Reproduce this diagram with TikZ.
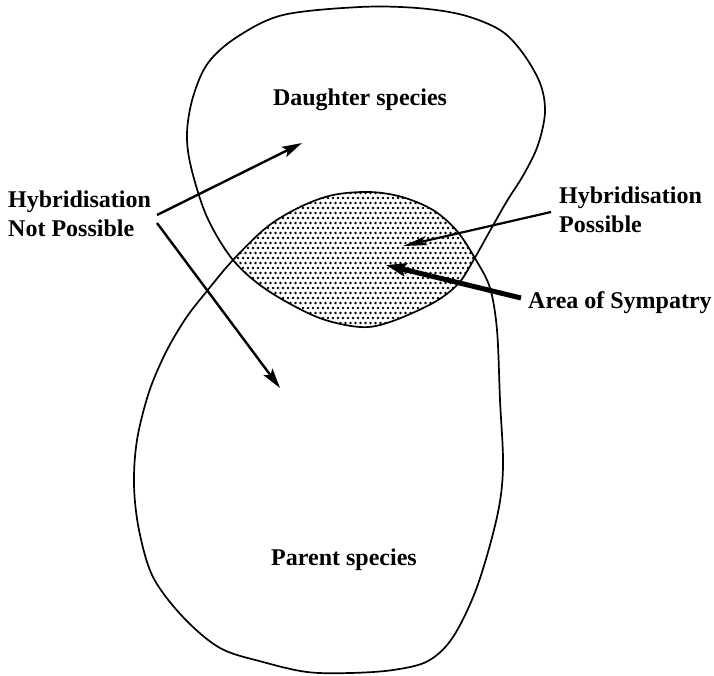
\documentclass[tikz,border=0pt]{standalone}
\usepackage{fontspec}
\setmainfont{Liberation Serif}
\usetikzlibrary{arrows.meta}
\newcommand\daughterpath{plot[smooth cycle, tension=0.55] coordinates {(360,7) (417,8) (463,15) (500,30) (522,52) (540,83) (545,112) (538,145) (524,174) (507,201) (491,229) (473,261) (458,284) (433,303) (390,322) (360,327) (317,317) (267,290) (233,260) (207,217) (191,167) (187,133) (193,97) (208,63) (237,37) (283,15)}}
\newcommand\parentpath{plot[smooth cycle, tension=0.55] coordinates {(233,260) (267,227) (300,207) (333,195) (370,192) (402,197) (433,210) (457,231) (476,260) (490,288) (497,330) (500,400) (503,467) (497,517) (477,587) (453,637) (428,661) (393,670) (350,673) (307,672) (263,662) (220,648) (183,617) (153,577) (139,530) (134,485) (137,440) (149,392) (166,352) (186,318) (207,291)}}
\begin{document}
\begin{tikzpicture}[x=1pt,y=-1pt,
  outline/.style={line width=1.7pt, line join=round},
  thinarrow/.style={line width=2.4pt, -{Stealth[length=20pt,width=11pt,inset=4pt]}},
  hparrow/.style={line width=2.2pt, -{Stealth[length=24pt,width=9pt,inset=5pt]}},
  thickarrow/.style={line width=5pt, -{Stealth[length=20pt,width=13pt,inset=3pt]}},
  lbl/.style={font=\fontsize{24}{29}\selectfont\bfseries, inner sep=0pt, anchor=base west}]
\useasboundingbox (0,0) rectangle (714,675);
% dotted overlap (area of sympatry)
\begin{scope}
  \clip \daughterpath;
  \clip \parentpath;
  \foreach \j in {0,...,29} {
    \pgfmathsetmacro\yy{188+5*\j}
    \pgfmathsetmacro\off{mod(\j,2)*2.5}
    \foreach \i in {0,...,52} {
      \fill (228+\off+5*\i,\yy) circle (1.4pt);
    }
  }
\end{scope}
% outlines
\draw[outline] \daughterpath;
\draw[outline] \parentpath;
% labels
\node[lbl, anchor=base] (ds) at (360,105) {Daughter species};
\node[lbl, anchor=base] (ps) at (344,565) {Parent species};
\node[lbl] (hnp1) at (8,207) {Hybridisation};
\node[lbl] (hnp2) at (8,236) {Not Possible};
\node[lbl] (hp1) at (559,203) {Hybridisation};
\node[lbl] (hp2) at (559,232) {Possible};
\node[lbl] (aos) at (528,308) {Area of Sympatry};
% arrow ends
\coordinate (a1s) at (157,215); \coordinate (a1e) at (302,143);
\coordinate (a2s) at (157,223); \coordinate (a2e) at (280,388);
\coordinate (a3s) at (551,212); \coordinate (a3e) at (403,246);
\coordinate (a4s) at (521,298); \coordinate (a4e) at (386,265);
\draw[thinarrow] (a1s) -- (a1e);
\draw[thinarrow] (a2s) -- (a2e);
\draw[hparrow] (a3s) -- (a3e);
\draw[thickarrow] (a4s) -- (a4e);
\end{tikzpicture}
\end{document}
